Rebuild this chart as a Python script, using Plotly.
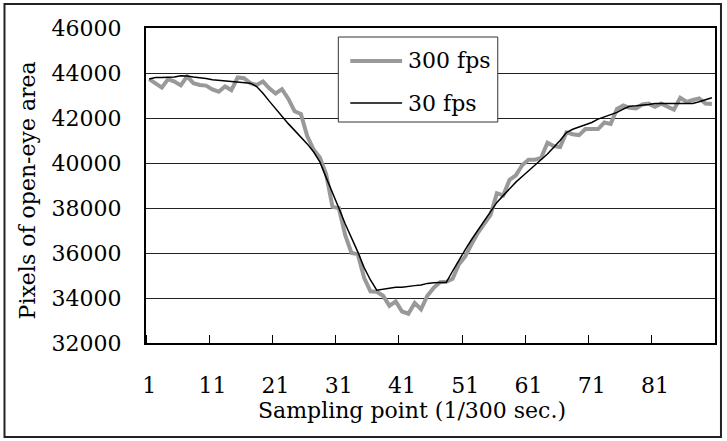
import plotly.graph_objects as go

# ---- data ----
sample_index = list(range(1, 91))
fps300 = [43730, 43550, 43350, 43730, 43620, 43450, 43850, 43550, 43470, 43440,
          43270, 43170, 43400, 43240, 43800, 43770, 43550, 43470, 43620, 43320,
          43090, 43280, 42860, 42300, 42180, 41200, 40600, 40250, 39500, 38050,
          38000, 36800, 36000, 35950, 34900, 34300, 34280, 34100, 33650, 33850,
          33400, 33300, 33780, 33500, 34100, 34450, 34700, 34720, 34850, 35500,
          35850, 36400, 36900, 37300, 37700, 38650, 38560, 39250, 39450, 39900,
          40150, 40150, 40230, 40900, 40750, 40710, 41360, 41280, 41240, 41510,
          41510, 41510, 41800, 41740, 42400, 42560, 42450, 42420, 42600, 42640,
          42500, 42640, 42500, 42370, 42900, 42720, 42800, 42870, 42640, 42620]
fps30 = [43730, 43800, 43800, 43800, 43820, 43880, 43870, 43820, 43800, 43760,
         43700, 43680, 43640, 43620, 43620, 43580, 43550, 43400, 43100, 42750,
         42400, 42050, 41750, 41450, 41150, 40850, 40500, 40050, 39350, 38700,
         38000, 37300, 36700, 36050, 35350, 34800, 34350, 34400, 34450, 34480,
         34480, 34500, 34550, 34580, 34650, 34680, 34700, 34700, 35200, 35700,
         36150, 36600, 37000, 37450, 37850, 38250, 38550, 38850, 39150, 39400,
         39650, 39900, 40150, 40400, 40700, 41000, 41350, 41500, 41600, 41700,
         41800, 41950, 42050, 42150, 42250, 42400, 42520, 42540, 42560, 42600,
         42640, 42640, 42640, 42640, 42650, 42650, 42650, 42720, 42800, 42900]
x_tick_labels = ["1", "11", "21", "31", "41", "51", "61", "71", "81"]
x_tick_positions = [1, 11, 21, 31, 41, 51, 61, 71, 81]
y_ticks = [32000, 34000, 36000, 38000, 40000, 42000, 44000, 46000]
y_tick_labels = ["32000", "34000", "36000", "38000", "40000", "42000", "44000", "46000"]
series_names = ["300 fps", "30 fps"]

# ---- layout constants (pixels) ----
W, H = 727, 441
L, R, T, B = 146, 717, 28, 343
FONT = "DejaVu Serif"
FS = 22

def px(xp):
    return (xp - L) / (R - L)

def py(yp):
    return (B - yp) / (B - T)

fig = go.Figure()
fig.add_trace(go.Scatter(x=sample_index, y=fps300, mode="lines", name=series_names[0],
                         line=dict(color="#999999", width=4), showlegend=False))
fig.add_trace(go.Scatter(x=sample_index, y=fps30, mode="lines", name=series_names[1],
                         line=dict(color="#000000", width=1.5), showlegend=False))

fig.update_layout(
    width=W, height=H,
    margin=dict(l=L, r=W - R, t=T, b=H - B),
    paper_bgcolor="white", plot_bgcolor="white",
    font=dict(family=FONT, size=FS, color="black"),
    showlegend=False,
)
fig.update_xaxes(
    range=[0.5, 90.5], tickmode="array", tickvals=x_tick_positions, ticktext=x_tick_labels,
    ticks="", showgrid=False, zeroline=False,
    showline=True, linecolor="black", linewidth=2, mirror=True,
    ticklabelstandoff=22,
    minor=dict(tickmode="linear", tick0=0.5, dtick=10, ticks="inside", ticklen=8,
               tickcolor="black", tickwidth=1, showgrid=False),
    tickfont=dict(family=FONT, size=FS),
)
fig.update_yaxes(
    range=[32000, 46000], tickmode="array", tickvals=y_ticks, ticktext=y_tick_labels,
    ticks="", showgrid=True, gridcolor="#222222", gridwidth=1, zeroline=False,
    showline=True, linecolor="black", linewidth=2, mirror=True,
    ticklabelstandoff=18,
    tickfont=dict(family=FONT, size=FS),
)

shapes = []
annotations = []
# outer chart border
shapes.append(dict(type="rect", xref="paper", yref="paper",
                   x0=px(4), x1=px(723), y0=py(437), y1=py(4),
                   line=dict(color="#222222", width=2), fillcolor="rgba(0,0,0,0)", layer="above"))
# legend box
shapes.append(dict(type="rect", xref="paper", yref="paper",
                   x0=px(339), x1=px(499), y0=py(122), y1=py(37),
                   line=dict(color="#333333", width=1), fillcolor="white", layer="above"))
legend_rows = [(61, "#999999", 4), (103, "#000000", 1.5)]
for (ypix, col, w), name in zip(legend_rows, series_names):
    shapes.append(dict(type="line", xref="paper", yref="paper",
                       x0=px(351), x1=px(403), y0=py(ypix), y1=py(ypix),
                       line=dict(color=col, width=w), layer="above"))
    annotations.append(dict(xref="paper", yref="paper", x=px(407), y=py(ypix),
                            xanchor="left", yanchor="middle", showarrow=False,
                            text=name, font=dict(family=FONT, size=FS, color="black")))
# axis titles
annotations.append(dict(xref="paper", yref="paper", x=px(413), y=py(410),
                        xanchor="center", yanchor="middle", showarrow=False,
                        text="Sampling point (1/300 sec.)",
                        font=dict(family=FONT, size=FS, color="black")))
annotations.append(dict(xref="paper", yref="paper", x=px(28), y=py(190),
                        xanchor="center", yanchor="middle", showarrow=False, textangle=-90,
                        text="Pixels of open-eye area",
                        font=dict(family=FONT, size=FS, color="black")))
fig.update_layout(shapes=shapes, annotations=annotations)

fig.write_html("out.html")
